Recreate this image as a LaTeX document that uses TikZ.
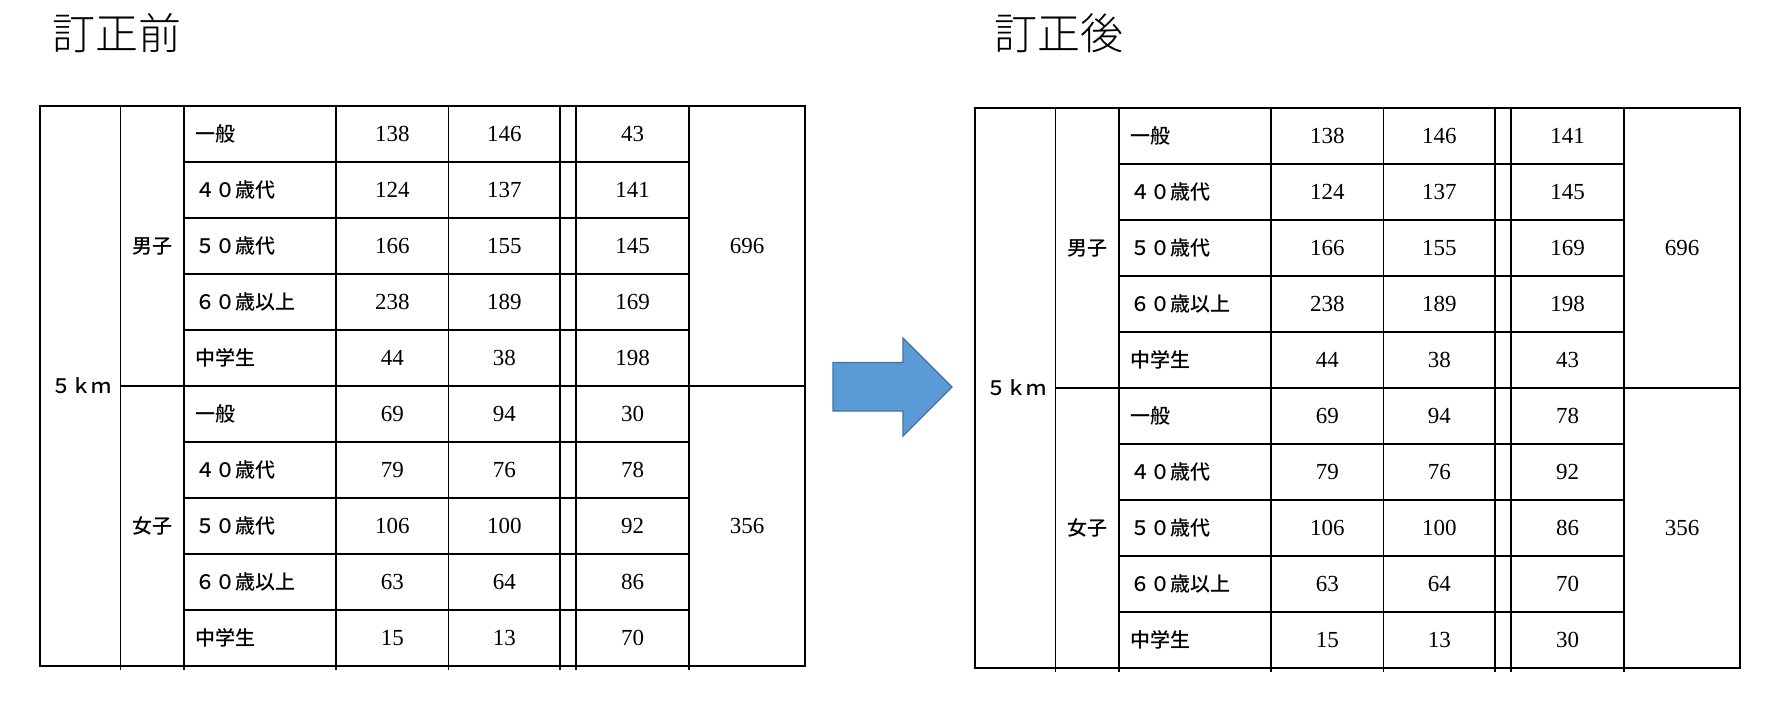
\documentclass[tikz,border=0pt]{standalone}
\usepackage{fontspec}
\setmainfont{Liberation Serif}
\IfFontExistsTF{Noto Sans CJK JP Medium}
	{\newfontfamily\jpfont{Noto Sans CJK JP Medium}}
	{\newfontfamily\jpfont{Noto Sans CJK JP}}
\IfFontExistsTF{Noto Sans CJK JP Light}
	{\newfontfamily\titlefont{Noto Sans CJK JP Light}}
	{\newfontfamily\titlefont{Noto Sans CJK JP}}
\usepackage{tikz}
\definecolor{arrowfill}{HTML}{5B9BD5}
\definecolor{arrowline}{HTML}{41719C}

\begin{document}
\begin{tikzpicture}[x=0.5pt, y=-0.5pt,
	heading/.style={font=\titlefont\fontsize{21.5}{25}\selectfont, anchor=west, inner sep=0pt},
	jp/.style={font=\jpfont\fontsize{10}{12}\selectfont, inner sep=0pt},
	num/.style={font=\fontsize{11.5}{13}\selectfont, inner sep=0pt},
	gridline/.style={line width=0.9pt}]
	\useasboundingbox (0,0) rectangle (1780,712);
	
	\node[heading] (pre-title) at (52,33) {訂正前};
	\node[heading] (post-title) at (994,33) {訂正後};
	
	% both tables share the same grid
	\foreach \t/\dx/\dy in {pre/40/106, post/975/108} {
		\begin{scope}[shift={(\dx,\dy)}]
			\draw[gridline] (0,0) rectangle (765,560);
			\foreach \c in {80.5,144,296,408.5,520,536,649}
				\draw[gridline] (\c,0) -- (\c,564);
			\draw[gridline] (80.5,280) -- (765,280);
			\foreach \r in {56,112,168,224,336,392,448,504}
				\draw[gridline] (144,\r) -- (649,\r);
			
			\node[jp] (\t-km) at (41,280) {５ｋｍ};
			\node[jp] (\t-male) at (112,140) {男子};
			\node[jp] (\t-female) at (112,420) {女子};
			\node[num] (\t-male-sum) at (707,140) {696};
			\node[num] (\t-female-sum) at (707,420) {356};
			
			\foreach \lab/\p/\q [count=\i] in {一般/138/146, ４０歳代/124/137, ５０歳代/166/155, ６０歳以上/238/189, 中学生/44/38,
				一般/69/94, ４０歳代/79/76, ５０歳代/106/100, ６０歳以上/63/64, 中学生/15/13} {
				\node[jp, anchor=west] (\t-lab\i) at (155,\i*56-28) {\lab};
				\node[num] (\t-a\i) at (352.25,\i*56-28) {\p};
				\node[num] (\t-b\i) at (464.25,\i*56-28) {\q};
			}
		\end{scope}
	}
	
	% the corrected column
	\foreach \old/\new [count=\i] in {43/141, 141/145, 145/169, 169/198, 198/43,
		30/78, 78/92, 92/86, 86/70, 70/30} {
		\node[num] (pre-c\i) at (632.5,78+\i*56) {\old};
		\node[num] (post-c\i) at (1567.5,80+\i*56) {\new};
	}
	
	\draw[fill=arrowfill, draw=arrowline, line width=0.6pt]
		(833,362.5) -- (903,362.5) -- (903,338) -- (952,387) -- (903,436) -- (903,411) -- (833,411) -- cycle;
\end{tikzpicture}
\end{document}
